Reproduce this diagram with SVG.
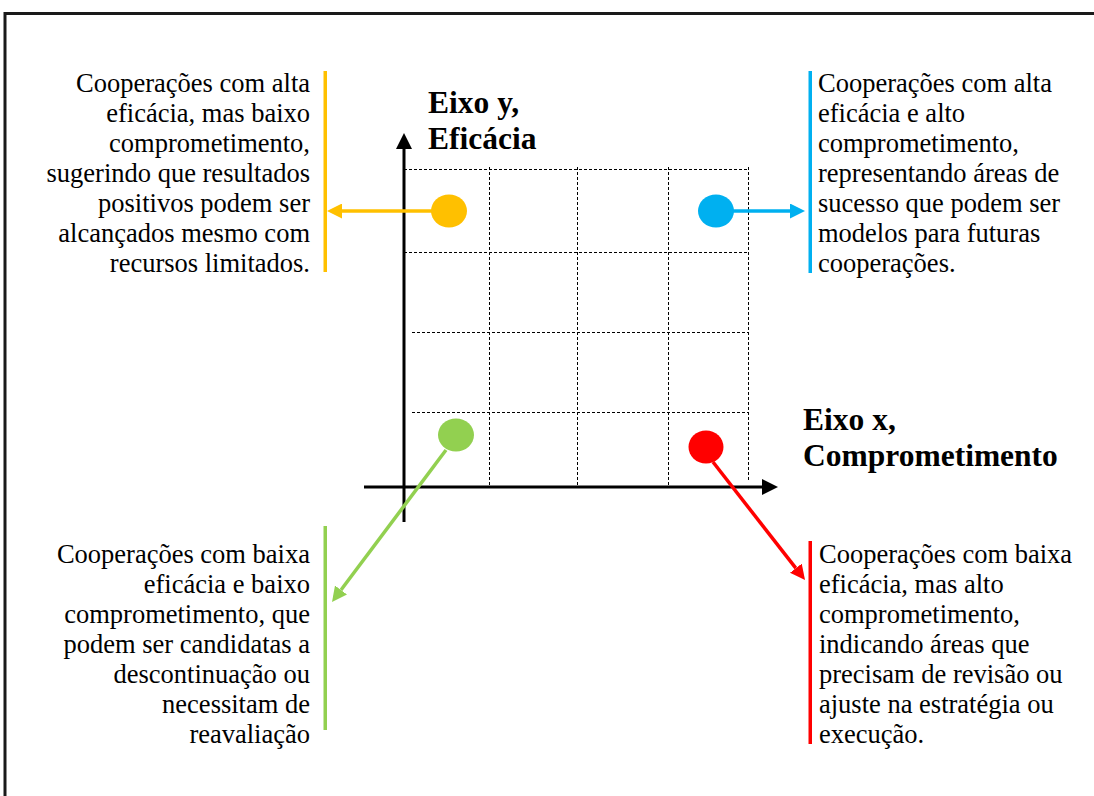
<svg xmlns="http://www.w3.org/2000/svg" width="1094" height="796" viewBox="0 0 1094 796">
<style>
.t{font-family:"Liberation Serif","Times New Roman",serif;font-size:26.5px;fill:#000}
.e{text-anchor:end}
.b{font-family:"Liberation Serif","Times New Roman",serif;font-size:31.5px;font-weight:bold;fill:#000}
.g{stroke:#000;stroke-width:1;stroke-dasharray:3 2;fill:none}
.ax{stroke:#000;stroke-width:3;fill:none}
</style>
<defs>
<marker id="mk" viewBox="0 -8 16 16" refX="0" refY="0" markerWidth="16" markerHeight="16" markerUnits="userSpaceOnUse" orient="auto"><path d="M0,-8 L16,0 L0,8z" fill="#000"/></marker>
<marker id="mo" viewBox="0 -7.5 15 15" refX="0" refY="0" markerWidth="15" markerHeight="15" markerUnits="userSpaceOnUse" orient="auto"><path d="M0,-7.5 L15,0 L0,7.5z" fill="#FFC000"/></marker>
<marker id="mb" viewBox="0 -7.5 15 15" refX="0" refY="0" markerWidth="15" markerHeight="15" markerUnits="userSpaceOnUse" orient="auto"><path d="M0,-7.5 L15,0 L0,7.5z" fill="#00B0F0"/></marker>
<marker id="mg" viewBox="0 -7.5 15 15" refX="0" refY="0" markerWidth="15" markerHeight="15" markerUnits="userSpaceOnUse" orient="auto"><path d="M0,-7.5 L15,0 L0,7.5z" fill="#92D050"/></marker>
<marker id="mr" viewBox="0 -7.5 15 15" refX="0" refY="0" markerWidth="15" markerHeight="15" markerUnits="userSpaceOnUse" orient="auto"><path d="M0,-7.5 L15,0 L0,7.5z" fill="#FF0000"/></marker>
</defs>
<rect width="1094" height="796" fill="#fff"/>
<path d="M5,796 V13.5 H1094" stroke="#1a1a1a" stroke-width="3" fill="none"/>

<g id="grid">
<path class="g" d="M404,169.5 H748 M404,252.5 H748 M412,332.5 H748 M412,412.5 H748"/>
<path class="g" d="M489.5,167 V487 M577.5,167 V487 M668.5,167 V487 M748.5,167 V482"/>
</g>

<g id="axes">
<path class="ax" d="M404,522 V149" marker-end="url(#mk)"/>
<path class="ax" d="M364,487 H762" marker-end="url(#mk)"/>
<text class="b" x="428" y="113">Eixo y,</text>
<text class="b" x="428" y="149">Eficácia</text>
<text class="b" x="803" y="430">Eixo x,</text>
<text class="b" x="803" y="466">Comprometimento</text>
</g>

<g id="connectors">
<path d="M432,211 H342" stroke="#FFC000" stroke-width="3.5" marker-end="url(#mo)"/>
<path d="M733,211 H790" stroke="#00B0F0" stroke-width="3.5" marker-end="url(#mb)"/>
<path d="M446,450 L341,590" stroke="#92D050" stroke-width="3.5" marker-end="url(#mg)"/>
<path d="M713,462 L795.8,568.2" stroke="#FF0000" stroke-width="3.5" marker-end="url(#mr)"/>
</g>

<g id="node-orange">
<ellipse cx="449" cy="211" rx="18" ry="16.5" fill="#FFC000"/>
<rect x="323.5" y="71" width="3.5" height="201" fill="#FFC000"/>
<text class="t e" x="310" y="92">Cooperações com alta</text>
<text class="t e" x="310" y="122">eficácia, mas baixo</text>
<text class="t e" x="310" y="152">comprometimento,</text>
<text class="t e" x="310" y="182">sugerindo que resultados</text>
<text class="t e" x="310" y="212">positivos podem ser</text>
<text class="t e" x="310" y="242">alcançados mesmo com</text>
<text class="t e" x="310" y="272">recursos limitados.</text>
</g>

<g id="node-blue">
<ellipse cx="716" cy="211" rx="18" ry="16.5" fill="#00B0F0"/>
<rect x="808.5" y="71" width="3.5" height="202" fill="#00B0F0"/>
<text class="t" x="818" y="92">Cooperações com alta</text>
<text class="t" x="818" y="122">eficácia e alto</text>
<text class="t" x="818" y="152">comprometimento,</text>
<text class="t" x="818" y="182">representando áreas de</text>
<text class="t" x="818" y="212">sucesso que podem ser</text>
<text class="t" x="818" y="242">modelos para futuras</text>
<text class="t" x="818" y="272">cooperações.</text>
</g>

<g id="node-green">
<ellipse cx="456" cy="435" rx="18" ry="16.5" fill="#92D050"/>
<rect x="323.5" y="526" width="3.5" height="204" fill="#92D050"/>
<text class="t e" x="310" y="563">Cooperações com baixa</text>
<text class="t e" x="310" y="593">eficácia e baixo</text>
<text class="t e" x="310" y="623">comprometimento, que</text>
<text class="t e" x="310" y="653">podem ser candidatas a</text>
<text class="t e" x="310" y="683">descontinuação ou</text>
<text class="t e" x="310" y="713">necessitam de</text>
<text class="t e" x="310" y="743">reavaliação</text>
</g>

<g id="node-red">
<ellipse cx="706" cy="447" rx="17.5" ry="16.5" fill="#FF0000"/>
<rect x="808.5" y="541" width="3.5" height="203" fill="#FF0000"/>
<text class="t" x="819" y="563">Cooperações com baixa</text>
<text class="t" x="819" y="593">eficácia, mas alto</text>
<text class="t" x="819" y="623">comprometimento,</text>
<text class="t" x="819" y="653">indicando áreas que</text>
<text class="t" x="819" y="683">precisam de revisão ou</text>
<text class="t" x="819" y="713">ajuste na estratégia ou</text>
<text class="t" x="819" y="743">execução.</text>
</g>
</svg>
